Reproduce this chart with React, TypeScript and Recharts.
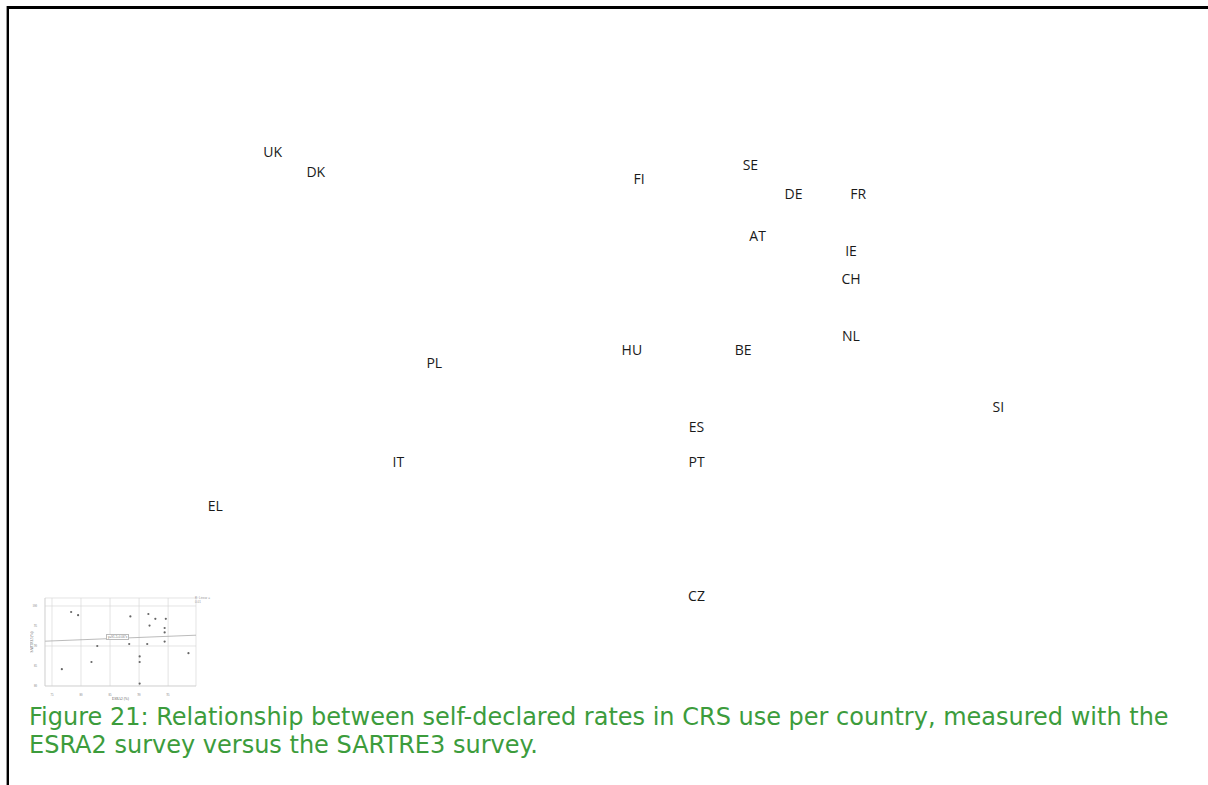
import React from 'react';
import { ScatterChart, Scatter, XAxis, YAxis, CartesianGrid, ReferenceLine, Label } from 'recharts';

// country codes and self-declared CRS use (%) per survey
const COUNTRIES = ['UK', 'DK', 'FI', 'SE', 'DE', 'FR', 'AT', 'IE', 'CH', 'NL', 'PL', 'HU', 'BE', 'SI', 'ES', 'IT', 'PT', 'EL', 'CZ'];
const ESRA2 = [78.3, 79.5, 88.5, 91.6, 92.8, 94.6, 91.8, 94.4, 94.4, 94.4, 82.8, 88.3, 91.4, 98.5, 90.1, 81.8, 90.1, 76.7, 90.1];
const SARTRE3 = [98.5, 97.7, 97.4, 98.0, 96.8, 96.8, 95.1, 94.5, 93.4, 91.1, 90.0, 90.5, 90.5, 88.2, 87.4, 86.0, 86.0, 84.2, 80.6];

const X_TICKS = [75, 80, 85, 90, 95];
const Y_TICKS = [80, 85, 90, 95, 100];
const X_DOMAIN = [73.8, 99.8];
const Y_DOMAIN = [80, 102];

// fitted line endpoints (ESRA2, SARTRE3)
const TREND_X = [73.8, 99.8];
const TREND_Y = [91.2, 92.7];

const CAPTION = [
  'Figure 21: Relationship between self-declared rates in CRS use per country, measured with the',
  'ESRA2 survey versus the SARTRE3 survey.',
];

const points = COUNTRIES.map((c, i) => ({ name: c, x: ESRA2[i], y: SARTRE3[i] }));

const CountryLabel = (props: any) => {
  const { cx, cy, payload } = props;
  return (
    <text
      x={cx}
      y={cy}
      textAnchor="middle"
      dominantBaseline="central"
      fontFamily="'Open Sans', sans-serif"
      fontSize={14}
      fill="#1a1a1a"
    >
      {payload.name}
    </text>
  );
};

const SmallDot = (props: any) => {
  const { cx, cy } = props;
  return <circle cx={cx} cy={cy} r={1.1} fill="#666" />;
};

export default function App() {
  return (
    <div style={{ position: 'absolute', left: 0, top: 0, width: 1208, height: 785, background: '#fff', overflow: 'hidden' }}>
      {/* page frame */}
      <div style={{ position: 'absolute', left: 6, top: 6, width: 1202, height: 3, background: '#000' }} />
      <div style={{ position: 'absolute', left: 6, top: 6, width: 1, height: 779, background: '#999' }} />
      <div style={{ position: 'absolute', left: 7, top: 6, width: 2, height: 779, background: '#000' }} />

      {/* enlarged country labels */}
      <div style={{ position: 'absolute', left: 111, top: 65 }}>
        <ScatterChart width={934} height={545} margin={{ top: 0, right: 0, bottom: 0, left: 0 }}>
          <XAxis type="number" dataKey="x" domain={X_DOMAIN} hide allowDataOverflow />
          <YAxis type="number" dataKey="y" domain={Y_DOMAIN} hide allowDataOverflow />
          <Scatter data={points} shape={<CountryLabel />} isAnimationActive={false} />
        </ScatterChart>
      </div>

      {/* thumbnail of the original scatter plot */}
      <div style={{ position: 'absolute', left: 30, top: 590 }}>
        <ScatterChart width={180} height={112} margin={{ top: 8, right: 14, bottom: 8, left: 5 }}>
          <CartesianGrid stroke="#d8d8d8" strokeWidth={0.7} />
          <XAxis
            type="number"
            dataKey="x"
            domain={X_DOMAIN}
            ticks={X_TICKS}
            height={8}
            tick={{ fontSize: 3, fill: '#777' }}
            tickLine={false}
            axisLine={{ stroke: '#ccc', strokeWidth: 0.6 }}
            allowDataOverflow
          >
            <Label value="ESRA2 (%)" position="insideBottom" offset={-6} style={{ fontSize: 3.5, fill: '#555' }} />
          </XAxis>
          <YAxis
            type="number"
            dataKey="y"
            domain={Y_DOMAIN}
            ticks={Y_TICKS}
            width={10}
            tick={{ fontSize: 3, fill: '#777' }}
            tickLine={false}
            axisLine={{ stroke: '#ccc', strokeWidth: 0.6 }}
            allowDataOverflow
          >
            <Label value="SARTRE3 (%)" angle={-90} position="insideLeft" offset={-3} style={{ fontSize: 3.5, fill: '#555', textAnchor: 'middle' }} />
          </YAxis>
          <ReferenceLine
            segment={[{ x: TREND_X[0], y: TREND_Y[0] }, { x: TREND_X[1], y: TREND_Y[1] }]}
            stroke="#aaa"
            strokeWidth={0.8}
          />
          <Scatter data={points} shape={<SmallDot />} isAnimationActive={false} />
        </ScatterChart>
        <div style={{ position: 'absolute', left: 76, top: 44, fontSize: 3, fontFamily: 'sans-serif', color: '#777', border: '0.5px solid #bbb', background: '#fff', padding: '0 1px', lineHeight: '4px' }}>
          y=91.2+0.06*x
        </div>
        <div style={{ position: 'absolute', left: 165, top: 6, fontSize: 3, fontFamily: 'sans-serif', color: '#999', lineHeight: '4px' }}>
          R² Linear = 0.01
        </div>
      </div>

      {/* caption */}
      <div
        style={{
          position: 'absolute',
          left: 29,
          top: 703,
          fontFamily: "'DejaVu Sans', Verdana, sans-serif",
          fontSize: 24,
          lineHeight: '28px',
          color: '#3c9c3c',
          whiteSpace: 'nowrap',
        }}
      >
        {CAPTION.map((line) => (
          <div key={line}>{line}</div>
        ))}
      </div>
    </div>
  );
}
